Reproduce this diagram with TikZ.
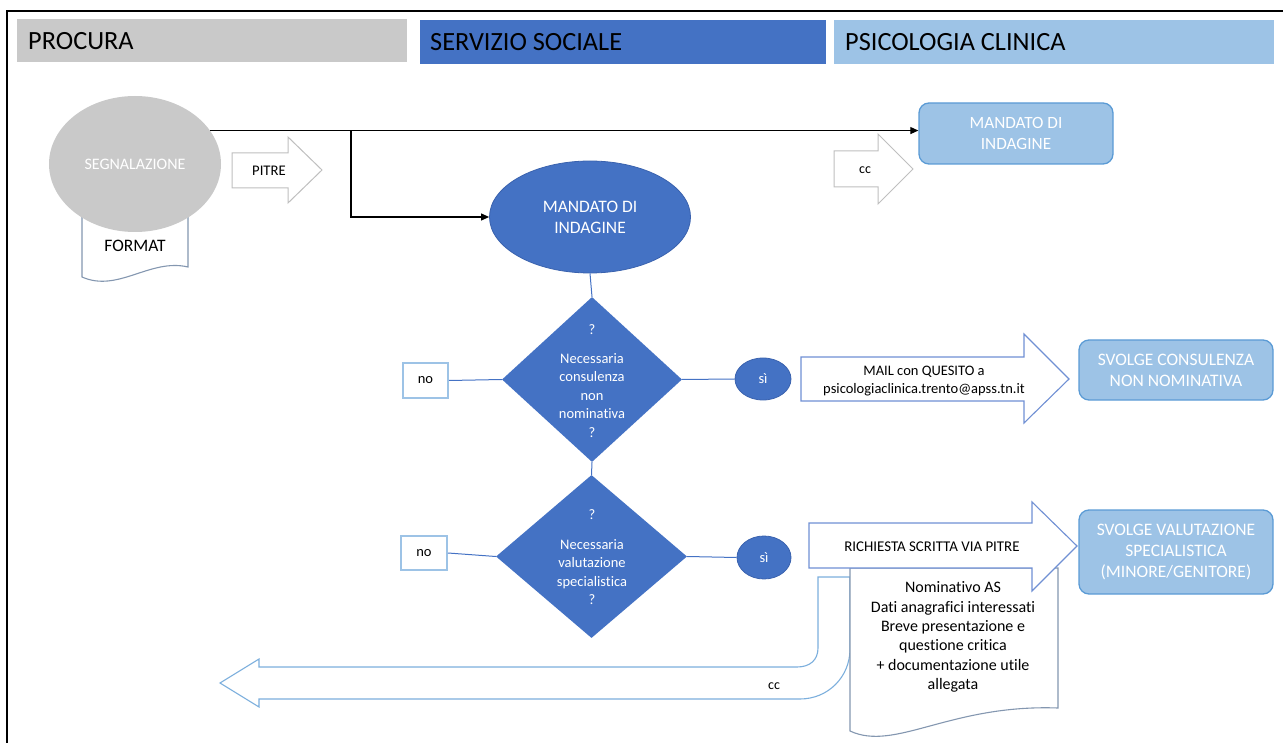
\documentclass[tikz,border=0pt]{standalone}
\usepackage{fontspec}
\setmainfont{Carlito}[Ligatures=NoCommon]
\usetikzlibrary{shapes.geometric,arrows.meta}
\definecolor{bluedk}{HTML}{4472C4}
\definecolor{bluelt}{HTML}{9DC3E6}
\definecolor{bluebd}{HTML}{5B9BD5}
\definecolor{grayc}{HTML}{C9C9C9}
\definecolor{arrgray}{HTML}{BFBFBF}
\definecolor{docbd}{HTML}{8497B0}
\definecolor{arrblue}{HTML}{7090D4}
\definecolor{ellbd}{HTML}{3A62AE}
\tikzset{
  hdrbox/.style={rectangle, inner sep=0pt, minimum height=44pt},
  hdrtxt/.style={anchor=west, inner sep=0pt, font=\fontsize{26.3}{30}\selectfont, text=black},
  grayell/.style={ellipse, fill=grayc, inner sep=0pt, text=white},
  blueell/.style={ellipse, fill=bluedk, draw=ellbd, line width=0.8pt, inner sep=0pt, text=white, align=center},
  ltbox/.style={rectangle, rounded corners=10pt, fill=bluelt, draw=bluebd, line width=1.3pt, text=white, align=center, font=\fontsize{17.5}{21}\selectfont},
  nobox/.style={rectangle, fill=white, draw=bluelt, line width=2pt, font=\fontsize{14.5}{17}\selectfont},
  decis/.style={diamond, fill=bluedk, inner sep=0pt},
  dectxt/.style={text=white, align=center, font=\fontsize{14.5}{18.5}\selectfont},
  conn/.style={draw=black, line width=1.1pt, -{Triangle[length=8pt,width=7pt]}},
  bconn/.style={draw=bluedk, line width=1pt},
  grayarr/.style={draw=arrgray, line width=1pt, fill=white},
  bluearr/.style={draw=arrblue, line width=1.1pt, fill=white},
  docshape/.style={draw=docbd, line width=1.1pt, fill=white},
  plain/.style={inner sep=0pt, align=center}
}
\begin{document}
\begin{tikzpicture}[x=1pt,y=-1pt]
\useasboundingbox (0,0) rectangle (1283,743);
% frame
\draw[line width=2pt] (7,743) -- (7,11) -- (1283,11);
% headers
\node[hdrbox, fill=grayc, minimum width=390pt, minimum height=43pt] (h1) at (212,40.5) {};
\node[hdrtxt] (h1t) at (28,41) {PROCURA};
\node[hdrbox, fill=bluedk, minimum width=406pt] (h2) at (623,42) {};
\node[hdrtxt] (h2t) at (430,42) {SERVIZIO SOCIALE};
\node[hdrbox, fill=bluelt, minimum width=440pt] (h3) at (1054,42) {};
\node[hdrtxt] (h3t) at (845,42) {PSICOLOGIA CLINICA};
% FORMAT document
\draw[docshape] (82,215) -- (82,277) .. controls (118,293) and (150,258) .. (188,267) -- (188,215) -- cycle;
\node[plain, font=\fontsize{17.5}{21}\selectfont] (fmt) at (135,246) {FORMAT};
% SEGNALAZIONE
\node[grayell, minimum width=172pt, minimum height=136pt, font=\fontsize{16}{19}\selectfont] (seg) at (135,164) {SEGNALAZIONE};
% PITRE arrow
\draw[grayarr] (232,153) -- (288,153) -- (288,137) -- (322,170) -- (288,203) -- (288,188) -- (232,188) -- cycle;
\node[plain, font=\fontsize{14.7}{17}\selectfont] (pitre) at (269,171) {PITRE};
% cc arrow (top)
\draw[grayarr] (834,151) -- (878,151) -- (878,134) -- (913,169) -- (878,204) -- (878,187) -- (834,187) -- cycle;
\node[plain, font=\fontsize{14}{16}\selectfont] (cc1) at (865,170) {cc};
% mandato nodes
\node[ltbox, minimum width=194pt, minimum height=61pt, font=\fontsize{17.2}{21}\selectfont] (mbox) at (1016,133.5) {MANDATO DI\\INDAGINE};
\node[blueell, minimum width=201pt, minimum height=112pt, font=\fontsize{17.5}{21}\selectfont] (mell) at (590,217) {MANDATO DI\\INDAGINE};
% black connectors
\coordinate (br) at (351,0);
\draw[conn] (seg.24) -- (seg.24 -| mbox.west);
\draw[conn] (seg.24 -| br) |- (mell.west);
% decision 1
\node[decis, minimum width=180pt, minimum height=165pt] (d1) at (592,379.5) {};
\node[dectxt] (d1t) at (592,381) {?\\[10pt]Necessaria\\consulenza\\non\\nominativa\\?};
\node[nobox, minimum width=45pt, minimum height=35pt] (no1) at (425.5,380.5) {no};
\node[blueell, minimum width=56pt, minimum height=42pt, font=\fontsize{14.5}{17}\selectfont] (si1) at (763,379) {sì};
% decision 2
\node[decis, minimum width=191pt, minimum height=163pt] (d2) at (591.5,556.5) {};
\node[dectxt] (d2t) at (592,557.5) {?\\[11pt]Necessaria\\valutazione\\specialistica\\?};
\node[nobox, minimum width=46pt, minimum height=34pt] (no2) at (424,553) {no};
\node[blueell, minimum width=54pt, minimum height=43pt, font=\fontsize{14.5}{17}\selectfont] (si2) at (764,557.5) {sì};
% blue connectors
\draw[bconn] (mell.south) -- (d1.north);
\draw[bconn] (d1.south) -- (d2.north);
\draw[bconn] (no1.east) -- (d1.west);
\draw[bconn] (d1.east) -- (si1.west);
\draw[bconn] (no2.east) -- (d2.west);
\draw[bconn] (d2.east) -- (si2.west);
% MAIL arrow
\draw[bluearr] (801,357) -- (1024,357) -- (1024,334) -- (1069,379) -- (1024,423) -- (1024,401) -- (801,401) -- cycle;
\node[plain, font=\fontsize{14.5}{18}\selectfont] (mailt) at (924,381) {MAIL con QUESITO a\\psicologiaclinica.trento@apss.tn.it};
\node[ltbox, minimum width=194pt, minimum height=60pt] (svc) at (1176,370) {SVOLGE CONSULENZA\\NON NOMINATIVA};
% curved cc arrow
\draw[bluearr, draw=bluebd!80] (818,577) -- (818,648) .. controls (818,660) and (810,667) .. (797,667) -- (259,667) -- (259,659) -- (220,683) -- (259,707) -- (259,699) -- (800,699) .. controls (828,699) and (850,677) .. (850,649) -- (850,577) -- cycle;
\node[plain, font=\fontsize{14}{16}\selectfont] (cc2) at (774,686) {cc};
% document 2
\draw[docshape] (850,568) -- (850,731) .. controls (895,752) and (950,704) .. (1058,708) -- (1058,568) -- cycle;
\node[plain, font=\fontsize{16}{19.4}\selectfont] (doct) at (953,637) {Nominativo AS\\Dati anagrafici interessati\\Breve presentazione e\\questione critica\\+ documentazione utile\\allegata};
% RICHIESTA arrow
\draw[bluearr] (809,523) -- (1032,523) -- (1032,502) -- (1077,546) -- (1032,591) -- (1032,568) -- (809,568) -- cycle;
\node[plain, font=\fontsize{14.9}{17}\selectfont] (richt) at (932,547) {RICHIESTA SCRITTA VIA PITRE};
\node[ltbox, minimum width=194pt, minimum height=84pt, font=\fontsize{17.5}{20.7}\selectfont] (svv) at (1176,552) {SVOLGE VALUTAZIONE\\SPECIALISTICA\\(MINORE/GENITORE)};
\end{tikzpicture}
\end{document}
